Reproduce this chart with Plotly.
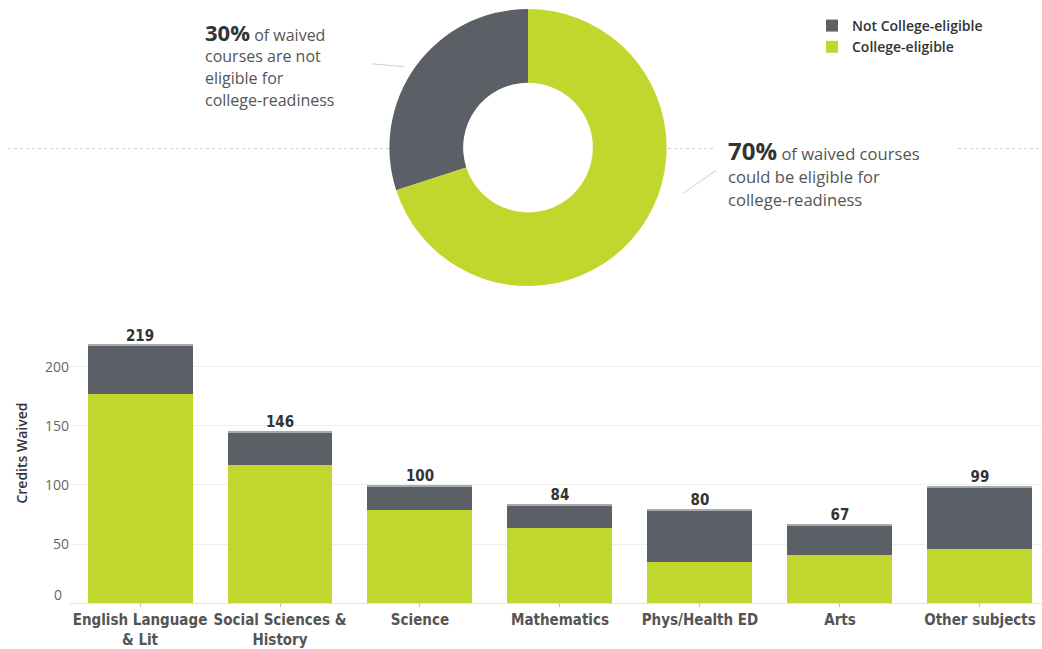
import plotly.graph_objects as go

# Course subjects and waived credits split by college-readiness eligibility
subjects = ["English Language<br>& Lit", "Social Sciences &<br>History", "Science",
            "Mathematics", "Phys/Health ED", "Arts", "Other subjects"]
college_eligible = [177, 117, 79, 64, 35, 41, 46]
not_eligible = [42, 29, 21, 20, 45, 26, 53]
totals = [219, 146, 100, 84, 80, 67, 99]

share_labels = ["Not College-eligible", "College-eligible"]
share_values = [30, 70]

GREEN = "#c2d72d"
DARK = "#5b5f66"
CAP = "#a7a9ac"
TXT = "#555555"
W, H = 1042, 649


def px(x):
    return x / W


def py(y):
    return (H - y) / H


xs = list(range(len(subjects)))
fig = go.Figure()

# Donut of eligibility shares; the not-eligible slice ends at 12 o'clock
fig.add_trace(go.Pie(
    labels=share_labels, values=share_values, hole=0.468, sort=False,
    direction="clockwise", rotation=-108,
    marker=dict(colors=[DARK, GREEN], line=dict(width=0)),
    textinfo="none", hoverinfo="label+percent",
    domain=dict(x=[px(389), px(667)], y=[py(287), py(9)]),
    showlegend=True,
))

# Stacked bars: eligible at the bottom, not eligible on top, thin cap at the total
fig.add_trace(go.Bar(x=xs, y=college_eligible, base=[0] * len(xs), width=0.75,
                     marker=dict(color=GREEN, line=dict(width=0)),
                     name="College-eligible", showlegend=False))
fig.add_trace(go.Bar(x=xs, y=not_eligible, base=college_eligible, width=0.75,
                     marker=dict(color=DARK, line=dict(width=0)),
                     name="Not College-eligible", showlegend=False))
cap_h = 1.7
fig.add_trace(go.Bar(x=xs, y=[cap_h] * len(xs), base=[t - cap_h for t in totals], width=0.75,
                     marker=dict(color=CAP, line=dict(width=0)),
                     hoverinfo="skip", showlegend=False))
fig.add_trace(go.Scatter(x=xs, y=totals, mode="text", text=[str(t) for t in totals],
                         textposition="top center",
                         textfont=dict(family="DejaVu Sans Condensed", size=15, color="#333333", weight="bold"),
                         hoverinfo="skip", showlegend=False))

fig.update_layout(
    width=W, height=H, margin=dict(l=0, r=0, t=0, b=0),
    paper_bgcolor="white", plot_bgcolor="white",
    barmode="overlay", bargap=0,
    font=dict(family="Open Sans", color=TXT),
    legend=dict(x=px(812), y=py(10), xanchor="left", yanchor="top",
                font=dict(family="Open Sans", size=14, color="#333333", weight=600),
                traceorder="normal", itemwidth=30, tracegroupgap=0,
                bgcolor="rgba(0,0,0,0)"),
    xaxis=dict(domain=[px(70), 1], range=[-0.5, 6.443],
               tickmode="array", tickvals=xs, ticktext=subjects,
               tickfont=dict(family="DejaVu Sans Condensed", size=15, color=TXT, weight="bold"),
               showgrid=False, zeroline=False,
               showline=True, linecolor="#e3e3e3", linewidth=1,
               ticks="outside", tickson="boundaries", ticklen=3, tickcolor="#bbbbbb"),
    yaxis=dict(domain=[py(605), py(330)], range=[0, 232],
               tickmode="array", tickvals=[50, 100, 150, 200],
               tickfont=dict(family="Open Sans", size=14, color="#666666"),
               showgrid=True, gridcolor="#eeeeee", zeroline=False, ticks=""),
)

# Zero label sits slightly above the baseline
fig.add_annotation(x=px(64), y=0, xref="paper", yref="y", text="0", showarrow=False,
                   xanchor="right", yanchor="middle", yshift=9,
                   font=dict(family="Open Sans", size=14, color="#666666"))

# Y-axis title
fig.add_annotation(x=px(22), y=py(455), xref="paper", yref="paper", text="Credits Waived",
                   textangle=-90, showarrow=False, xanchor="center", yanchor="middle",
                   font=dict(family="Open Sans", size=14, color="#333333", weight=600))

# Callout texts around the donut
def callout(x, y, text, size=16):
    fig.add_annotation(x=px(x), y=py(y), xref="paper", yref="paper", text=text,
                       showarrow=False, xanchor="left", yanchor="middle", align="left",
                       font=dict(family="Open Sans", size=size, color=TXT))


callout(203, 32, "<b><span style='font-size:22px;color:#333'>30%</span></b> of waived")
callout(203, 56, "courses are not")
callout(203, 78, "eligible for")
callout(203, 100, "college-readiness")
callout(726, 151, "<b><span style='font-size:24px;color:#333'>70%</span></b> of waived courses", 16.6)
callout(726, 177, "could be eligible for", 16.6)
callout(726, 200, "college-readiness", 16.6)

# Dotted divider and leader lines
for x0, x1 in [(8, 390), (668, 716), (958, 1040)]:
    fig.add_shape(type="line", xref="paper", yref="paper", x0=px(x0), x1=px(x1),
                  y0=py(149), y1=py(149), layer="below",
                  line=dict(color="#cccccc", width=1, dash="dot"))
fig.add_shape(type="line", xref="paper", yref="paper", x0=px(372), y0=py(64), x1=px(404), y1=py(67),
              line=dict(color="#d0d0d0", width=1))
fig.add_shape(type="line", xref="paper", yref="paper", x0=px(683), y0=py(194), x1=px(716), y1=py(171),
              line=dict(color="#d0d0d0", width=1))

fig.write_html("out.html")
